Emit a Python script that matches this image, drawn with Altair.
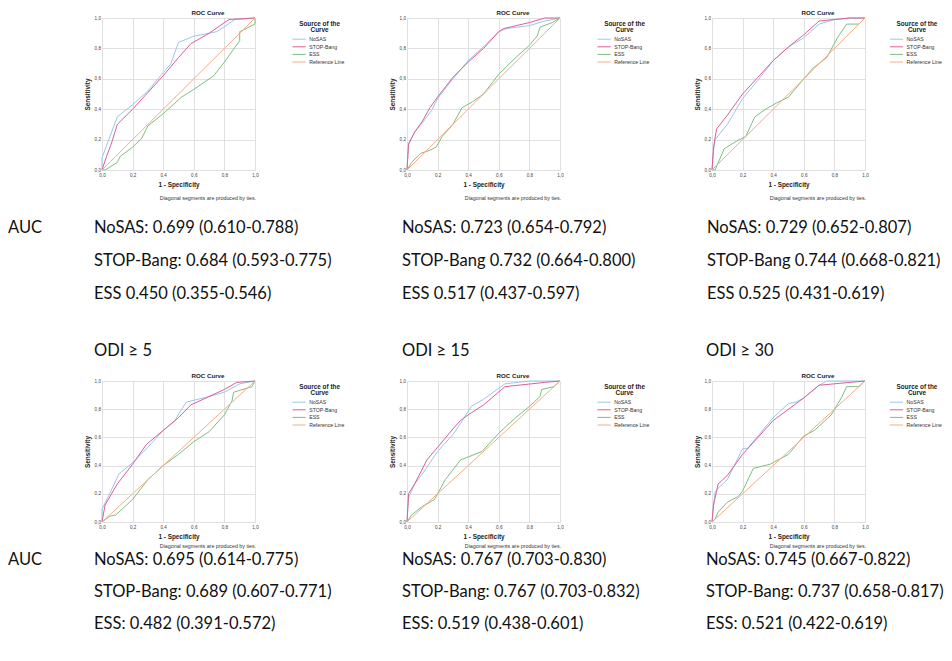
import altair as alt
import pandas as pd

SERIES = ["NoSAS", "STOP-Bang", "ESS", "Reference Line"]
COLORS = ["#9cc5ec", "#dc5f95", "#7cbf84", "#f3ad84"]
TICKS = [0.0, 0.2, 0.4, 0.6, 0.8, 1.0]

REF_X = [0.0, 1.0]
REF_Y = [0.0, 1.0]

# ---- top row, panel 1 ----
A_NOSAS_X = [0.0, 0.0, 0.1, 0.2, 0.3, 0.4, 0.45, 0.5, 0.6, 0.75, 0.87, 1.0]
A_NOSAS_Y = [0.0, 0.08, 0.35, 0.43, 0.52, 0.64, 0.70, 0.84, 0.88, 0.91, 0.99, 1.0]
A_STOP_X = [0.0, 0.03, 0.06, 0.1, 0.2, 0.3, 0.4, 0.5, 0.58, 0.7, 0.83, 1.0]
A_STOP_Y = [0.0, 0.09, 0.17, 0.30, 0.40, 0.51, 0.62, 0.74, 0.83, 0.90, 0.99, 1.0]
A_ESS_X = [0.0, 0.02, 0.1, 0.12, 0.2, 0.26, 0.3, 0.4, 0.52, 0.6, 0.73, 0.8, 0.9, 0.9, 1.0, 1.0]
A_ESS_Y = [0.0, 0.0, 0.05, 0.09, 0.15, 0.21, 0.29, 0.37, 0.48, 0.53, 0.62, 0.71, 0.85, 0.91, 0.96, 1.0]

# ---- top row, panel 2 ----
B_NOSAS_X = [0.0, 0.01, 0.05, 0.1, 0.16, 0.2, 0.3, 0.4, 0.5, 0.6, 0.65, 0.8, 0.9, 1.0]
B_NOSAS_Y = [0.0, 0.17, 0.25, 0.31, 0.39, 0.47, 0.60, 0.72, 0.81, 0.91, 0.93, 0.95, 0.98, 1.0]
B_STOP_X = [0.0, 0.01, 0.05, 0.1, 0.15, 0.2, 0.3, 0.35, 0.4, 0.5, 0.6, 0.63, 0.8, 0.9, 1.0]
B_STOP_Y = [0.0, 0.17, 0.25, 0.32, 0.41, 0.48, 0.61, 0.66, 0.71, 0.80, 0.91, 0.93, 0.97, 1.0, 1.0]
B_ESS_X = [0.0, 0.03, 0.09, 0.15, 0.19, 0.23, 0.3, 0.36, 0.43, 0.5, 0.6, 0.7, 0.8, 0.85, 0.87, 0.95, 1.0]
B_ESS_Y = [0.0, 0.05, 0.11, 0.13, 0.15, 0.22, 0.30, 0.41, 0.45, 0.50, 0.63, 0.73, 0.82, 0.88, 0.94, 0.97, 1.0]

# ---- top row, panel 3 ----
C_NOSAS_X = [0.0, 0.01, 0.02, 0.1, 0.2, 0.3, 0.4, 0.5, 0.6, 0.7, 0.8, 0.9, 1.0]
C_NOSAS_Y = [0.0, 0.12, 0.20, 0.30, 0.47, 0.59, 0.72, 0.81, 0.87, 0.96, 0.99, 1.0, 1.0]
C_STOP_X = [0.0, 0.01, 0.03, 0.1, 0.2, 0.3, 0.4, 0.5, 0.6, 0.7, 0.8, 0.9, 1.0]
C_STOP_Y = [0.0, 0.15, 0.27, 0.36, 0.50, 0.61, 0.72, 0.81, 0.89, 0.98, 0.99, 1.0, 1.0]
C_ESS_X = [0.0, 0.02, 0.08, 0.16, 0.22, 0.28, 0.35, 0.42, 0.5, 0.6, 0.66, 0.75, 0.82, 0.88, 0.96, 1.0]
C_ESS_Y = [0.0, 0.0, 0.14, 0.19, 0.22, 0.35, 0.40, 0.44, 0.48, 0.60, 0.67, 0.74, 0.87, 0.96, 0.96, 1.0]

# ---- bottom row, panel 1 (ODI >= 5) ----
D_NOSAS_X = [0.0, 0.0, 0.05, 0.11, 0.2, 0.3, 0.4, 0.47, 0.55, 0.7, 0.8, 0.9, 1.0]
D_NOSAS_Y = [0.0, 0.09, 0.20, 0.34, 0.42, 0.53, 0.65, 0.71, 0.85, 0.89, 0.92, 0.98, 1.0]
D_STOP_X = [0.0, 0.02, 0.1, 0.2, 0.29, 0.4, 0.5, 0.58, 0.7, 0.8, 0.88, 1.0]
D_STOP_Y = [0.0, 0.12, 0.27, 0.41, 0.55, 0.65, 0.74, 0.83, 0.89, 0.94, 0.99, 1.0]
D_ESS_X = [0.0, 0.05, 0.09, 0.2, 0.3, 0.4, 0.5, 0.6, 0.7, 0.8, 0.85, 0.86, 0.98, 1.0]
D_ESS_Y = [0.0, 0.04, 0.05, 0.16, 0.30, 0.40, 0.48, 0.57, 0.64, 0.76, 0.86, 0.92, 0.96, 1.0]

# ---- bottom row, panel 2 (ODI >= 15) ----
E_NOSAS_X = [0.0, 0.01, 0.05, 0.1, 0.15, 0.2, 0.3, 0.35, 0.42, 0.5, 0.64, 0.8, 1.0]
E_NOSAS_Y = [0.0, 0.17, 0.27, 0.34, 0.42, 0.50, 0.62, 0.70, 0.82, 0.87, 0.98, 1.0, 1.0]
E_STOP_X = [0.0, 0.01, 0.05, 0.13, 0.2, 0.3, 0.35, 0.4, 0.5, 0.64, 0.9, 1.0]
E_STOP_Y = [0.0, 0.20, 0.27, 0.44, 0.53, 0.66, 0.72, 0.76, 0.83, 0.96, 0.99, 1.0]
E_ESS_X = [0.0, 0.03, 0.1, 0.18, 0.25, 0.35, 0.49, 0.6, 0.7, 0.8, 0.87, 0.88, 0.96, 1.0]
E_ESS_Y = [0.0, 0.05, 0.11, 0.16, 0.30, 0.44, 0.50, 0.63, 0.73, 0.82, 0.89, 0.94, 0.96, 1.0]

# ---- bottom row, panel 3 (ODI >= 30) ----
F_NOSAS_X = [0.0, 0.01, 0.02, 0.05, 0.1, 0.2, 0.23, 0.3, 0.4, 0.5, 0.55, 0.6, 0.7, 0.75, 1.0]
F_NOSAS_Y = [0.0, 0.12, 0.21, 0.25, 0.30, 0.52, 0.52, 0.61, 0.74, 0.84, 0.85, 0.88, 0.97, 1.0, 1.0]
F_STOP_X = [0.0, 0.01, 0.04, 0.1, 0.2, 0.3, 0.4, 0.5, 0.6, 0.7, 0.8, 0.9, 1.0]
F_STOP_Y = [0.0, 0.12, 0.27, 0.33, 0.48, 0.60, 0.72, 0.80, 0.88, 0.97, 0.98, 0.99, 1.0]
F_ESS_X = [0.0, 0.02, 0.04, 0.1, 0.17, 0.2, 0.27, 0.38, 0.5, 0.6, 0.67, 0.78, 0.85, 0.88, 0.96, 1.0]
F_ESS_Y = [0.0, 0.02, 0.07, 0.14, 0.18, 0.22, 0.38, 0.41, 0.48, 0.61, 0.65, 0.76, 0.89, 0.96, 0.96, 1.0]

HEADERS = [None, None, None, "ODI \u2265 5", "ODI \u2265 15", "ODI \u2265 30"]

AUC_TEXTS = [
    ["NoSAS: 0.699 (0.610-0.788)", "STOP-Bang: 0.684 (0.593-0.775)", "ESS 0.450 (0.355-0.546)"],
    ["NoSAS: 0.723 (0.654-0.792)", "STOP-Bang 0.732 (0.664-0.800)", "ESS 0.517 (0.437-0.597)"],
    ["NoSAS: 0.729 (0.652-0.807)", "STOP-Bang 0.744 (0.668-0.821)", "ESS 0.525 (0.431-0.619)"],
    ["NoSAS: 0.695 (0.614-0.775)", "STOP-Bang: 0.689 (0.607-0.771)", "ESS: 0.482 (0.391-0.572)"],
    ["NoSAS: 0.767 (0.703-0.830)", "STOP-Bang: 0.767 (0.703-0.832)", "ESS: 0.519 (0.438-0.601)"],
    ["NoSAS: 0.745 (0.667-0.822)", "STOP-Bang: 0.737 (0.658-0.817)", "ESS: 0.521 (0.422-0.619)"],
]

CURVES = [
    [(A_NOSAS_X, A_NOSAS_Y), (A_STOP_X, A_STOP_Y), (A_ESS_X, A_ESS_Y), (REF_X, REF_Y)],
    [(B_NOSAS_X, B_NOSAS_Y), (B_STOP_X, B_STOP_Y), (B_ESS_X, B_ESS_Y), (REF_X, REF_Y)],
    [(C_NOSAS_X, C_NOSAS_Y), (C_STOP_X, C_STOP_Y), (C_ESS_X, C_ESS_Y), (REF_X, REF_Y)],
    [(D_NOSAS_X, D_NOSAS_Y), (D_STOP_X, D_STOP_Y), (D_ESS_X, D_ESS_Y), (REF_X, REF_Y)],
    [(E_NOSAS_X, E_NOSAS_Y), (E_STOP_X, E_STOP_Y), (E_ESS_X, E_ESS_Y), (REF_X, REF_Y)],
    [(F_NOSAS_X, F_NOSAS_Y), (F_STOP_X, F_STOP_Y), (F_ESS_X, F_ESS_Y), (REF_X, REF_Y)],
]

W = 153
HEIGHTS = [152, 152, 152, 141, 141, 141]
SMALL_FONT = "Liberation Sans"
BIG_FONT = "Lato"
BIG_SIZE = 16.5
LABEL_EXPR = "replace(format(datum.value, '.1f'), '.', ',')"

# layout offsets (pixels, relative to each plot's top-left corner)
TEXT_DX = [-8, -5, -5, -8, -5, -6]
TEXT_Y = [[215, 248, 281]] * 3 + [[184, 216, 248]] * 3
DIAG_Y = [180, 180, 180, 165, 165, 165]
LEGEND_X = [193.6, 193.6, 181, 193.6, 193.6, 181]


def text_layer(txt, x, y, size, font, weight="normal", align="left",
               baseline="middle", color="#222222"):
    return alt.Chart(pd.DataFrame({"t": [txt]})).mark_text(
        font=font, fontSize=size, fontWeight=weight, align=align,
        baseline=baseline, color=color
    ).encode(text="t:N", x=alt.value(x), y=alt.value(y))


def panel(i):
    rows = []
    for name, (xs, ys) in zip(SERIES, CURVES[i]):
        for k, (a, b) in enumerate(zip(xs, ys)):
            rows.append({"fpr": a, "tpr": b, "series": name, "idx": k})
    df = pd.DataFrame(rows)

    lines = alt.Chart(df).mark_line(strokeWidth=1).encode(
        x=alt.X("fpr:Q", scale=alt.Scale(domain=[0, 1], nice=False),
                axis=alt.Axis(values=TICKS, labelExpr=LABEL_EXPR, title="1 - Specificity",
                              titleFont=SMALL_FONT, titleFontSize=6.4, titleFontWeight="bold",
                              titleColor="#222", titlePadding=5,
                              labelFont=SMALL_FONT, labelFontSize=4.6, labelColor="#444",
                              labelFlush=False, labelPadding=2, ticks=False, domain=False,
                              gridColor="#dcdcdc", gridWidth=0.9)),
        y=alt.Y("tpr:Q", scale=alt.Scale(domain=[0, 1], nice=False),
                axis=alt.Axis(values=TICKS, labelExpr=LABEL_EXPR, title="Sensitivity",
                              titleFont=SMALL_FONT, titleFontSize=6.4, titleFontWeight="bold",
                              titleColor="#222", titlePadding=4,
                              labelFont=SMALL_FONT, labelFontSize=4.6, labelColor="#444",
                              labelPadding=1.5, ticks=False, domain=False,
                              gridColor="#dcdcdc", gridWidth=0.9)),
        color=alt.Color("series:N", scale=alt.Scale(domain=SERIES, range=COLORS),
                        legend=alt.Legend(
                            title=["Source of the", "Curve"], orient="none",
                            legendX=LEGEND_X[i], legendY=3,
                            titleFont=SMALL_FONT, titleFontSize=6.4, titleFontWeight="bold",
                            titleColor="#222", titleAlign="center", titleAnchor="middle",
                            titleLineHeight=6.3, titlePadding=2,
                            labelFont=SMALL_FONT, labelFontSize=5.2, labelColor="#333",
                            symbolType="M-2.2,0L2.2,0", symbolSize=36, symbolStrokeWidth=1,
                            labelOffset=6.6, rowPadding=0.6, padding=0)),
        order=alt.Order("idx:Q"),
    )

    layers = [lines,
              text_layer("ROC Curve", 106, -5, 6.2, SMALL_FONT, "bold", "center"),
              text_layer("Diagonal segments are produced by ties.", 106, DIAG_Y[i], 5.3,
                         SMALL_FONT, "normal", "center", color="#333")]
    for j, t in enumerate(AUC_TEXTS[i]):
        layers.append(text_layer(t, TEXT_DX[i], TEXT_Y[i][j], BIG_SIZE, BIG_FONT,
                                 baseline="alphabetic", color="#111"))
    if i in (0, 3):
        layers.append(text_layer("AUC", -94, TEXT_Y[i][0], BIG_SIZE, BIG_FONT,
                                 baseline="alphabetic", color="#111"))
    if HEADERS[i]:
        layers.append(text_layer(HEADERS[i], TEXT_DX[i], -25, BIG_SIZE, BIG_FONT,
                                 baseline="alphabetic", color="#111"))
    return alt.layer(*layers).properties(width=W, height=HEIGHTS[i])


chart = alt.concat(
    *[panel(i) for i in range(6)], columns=3,
    spacing={"row": 211, "column": 152}, bounds="flush",
).resolve_scale(color="independent").resolve_legend(color="independent").properties(
    padding={"left": 0, "top": 2, "right": 0, "bottom": 0}
).configure_view(stroke=None)

chart.save("out.html", embed_options={"renderer": "svg", "actions": False})
